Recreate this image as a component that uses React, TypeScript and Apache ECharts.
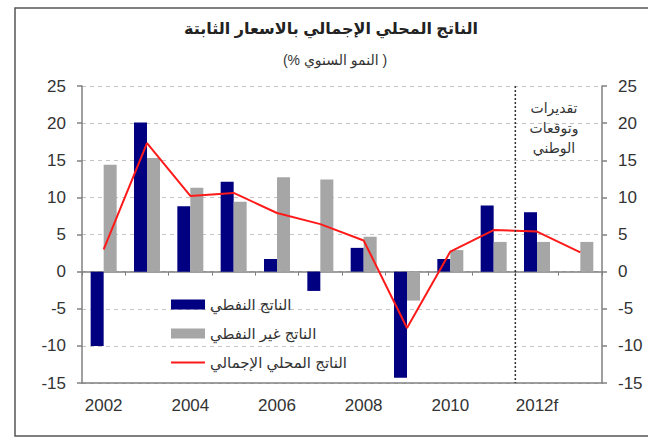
import React, { useEffect, useRef } from 'react';
import * as echarts from 'echarts';

const categories = ['2002', '2003', '2004', '2005', '2006', '2007', '2008', '2009', '2010', '2011', '2012f', '2013f'];
const oilGdp = [-10.0, 20.1, 8.8, 12.1, 1.7, -2.6, 3.2, -14.3, 1.7, 8.9, 8.0, null];
const nonOilGdp = [14.4, 15.3, 11.3, 9.4, 12.7, 12.4, 4.7, -3.9, 2.9, 4.0, 4.0, 4.0];
const totalGdp = [3.0, 17.3, 10.2, 10.6, 7.9, 6.4, 4.2, -7.6, 2.7, 5.6, 5.4, 2.6];
const yMin = -15;
const yMax = 25;
const yStep = 5;
const seriesNames = ['الناتج النفطي', 'الناتج غير النفطي', 'الناتج المحلي الإجمالي'];
const titleText = 'الناتج المحلي الإجمالي بالاسعار الثابتة';
// logical order chosen so that the right-to-left rendering shows "( النمو السنوي %)"
const subtitleText = '(% النمو السنوي )';
const noteText = 'تقديرات\nوتوقعات\nالوطني';
const forecastStart = '2012f';
const lastActual = '2011';

const FONT = '"Liberation Sans", Arial, "DejaVu Sans", sans-serif';
const LINE_ICON = 'path://M0,0L0.01,0L0.01,0.01Z M0,4.1L34,4.1L34,5.9L0,5.9Z M33.99,9.99L34,9.99L34,10Z';

export default function App() {
  const ref = useRef<HTMLDivElement>(null);
  useEffect(() => {
    document.body.style.margin = '0';
    const chart = echarts.init(ref.current!, null, { renderer: 'svg' });
    const axisLabel = { color: '#333', fontSize: 17, fontFamily: FONT };
    const yAxisBase = {
      type: 'value',
      min: yMin,
      max: yMax,
      interval: yStep,
      axisLine: { show: true, lineStyle: { color: '#808080', width: 1.5 } },
      axisTick: { show: true, length: 5, lineStyle: { color: '#808080', width: 1.5 } },
    };
    chart.setOption({
      animation: false,
      textStyle: { fontFamily: FONT },
      title: [
        {
          text: titleText,
          left: 326,
          top: 15,
          textAlign: 'center',
          textStyle: { fontSize: 16, fontWeight: 'bold', color: '#222', fontFamily: FONT },
        },
        {
          text: subtitleText,
          left: 330,
          top: 48,
          textAlign: 'center',
          textStyle: { fontSize: 14, fontWeight: 'normal', color: '#333', fontFamily: FONT },
        },
      ],
      grid: { left: 82, right: 46, top: 86, bottom: 62, containLabel: false },
      legend: {
        orient: 'vertical',
        left: 166,
        top: 291,
        itemWidth: 34,
        itemHeight: 10,
        itemGap: 12,
        data: [
          { name: seriesNames[0], icon: 'rect' },
          { name: seriesNames[1], icon: 'rect' },
          { name: seriesNames[2], icon: LINE_ICON },
        ],
        textStyle: { fontSize: 15, color: '#333', fontFamily: FONT, lineHeight: 17 },
      },
      xAxis: [
        {
          type: 'category',
          data: categories,
          position: 'bottom',
          axisLine: { onZero: false, lineStyle: { color: '#808080', width: 1.5 } },
          axisTick: { show: false },
          axisLabel: { ...axisLabel, interval: 1, margin: 14 },
          splitLine: { show: false },
        },
        {
          type: 'category',
          data: categories,
          position: 'bottom',
          axisLine: { onZero: true, onZeroAxisIndex: 0, lineStyle: { color: '#808080', width: 1.5 } },
          axisTick: { show: true, length: 4, lineStyle: { color: '#808080' } },
          axisLabel: { show: false },
          splitLine: { show: false },
        },
      ],
      yAxis: [
        {
          ...yAxisBase,
          position: 'left',
          axisLabel: { ...axisLabel, margin: 16 },
          splitLine: { show: true, lineStyle: { color: '#c4c4c4', type: [4, 4], width: 1.2 } },
        },
        {
          ...yAxisBase,
          position: 'right',
          axisLabel: { ...axisLabel, margin: 16 },
          splitLine: { show: false },
        },
      ],
      series: [
        {
          name: seriesNames[0],
          type: 'bar',
          data: oilGdp,
          barWidth: 13,
          barGap: '0%',
          itemStyle: { color: '#000080' },
        },
        {
          name: seriesNames[1],
          type: 'bar',
          data: nonOilGdp,
          barWidth: 13,
          barGap: '0%',
          itemStyle: { color: '#a6a6a6' },
        },
        {
          name: seriesNames[2],
          type: 'line',
          data: totalGdp,
          symbol: 'none',
          lineStyle: { color: '#ff1a1a', width: 2 },
          itemStyle: { color: '#ff1a1a' },
          z: 5,
        },
      ],
    });

    const xa = chart.convertToPixel({ xAxisIndex: 0 }, lastActual) as number;
    const xb = chart.convertToPixel({ xAxisIndex: 0 }, forecastStart) as number;
    const xm = (xa + xb) / 2;
    const yTop = chart.convertToPixel({ yAxisIndex: 0 }, yMax) as number;
    const yBot = chart.convertToPixel({ yAxisIndex: 0 }, yMin) as number;

    chart.setOption({
      graphic: [
        {
          type: 'rect',
          shape: { x: 15, y: 8, width: 720, height: 428 },
          style: { fill: 'none', stroke: '#555', lineWidth: 1.5 },
          silent: true,
        },
        {
          type: 'line',
          shape: { x1: xm, y1: yTop, x2: xm, y2: yBot },
          style: { stroke: '#333', lineWidth: 1.5, lineDash: [2, 2] },
          silent: true,
          z: 10,
        },
        {
          type: 'text',
          x: 554,
          y: 98,
          style: {
            text: noteText,
            fill: '#333',
            fontSize: 14,
            lineHeight: 20,
            fontFamily: FONT,
            align: 'center',
            verticalAlign: 'top',
          },
          silent: true,
        },
      ],
    });

    return () => chart.dispose();
  }, []);
  return <div ref={ref} style={{ width: 648, height: 445 }} />;
}
